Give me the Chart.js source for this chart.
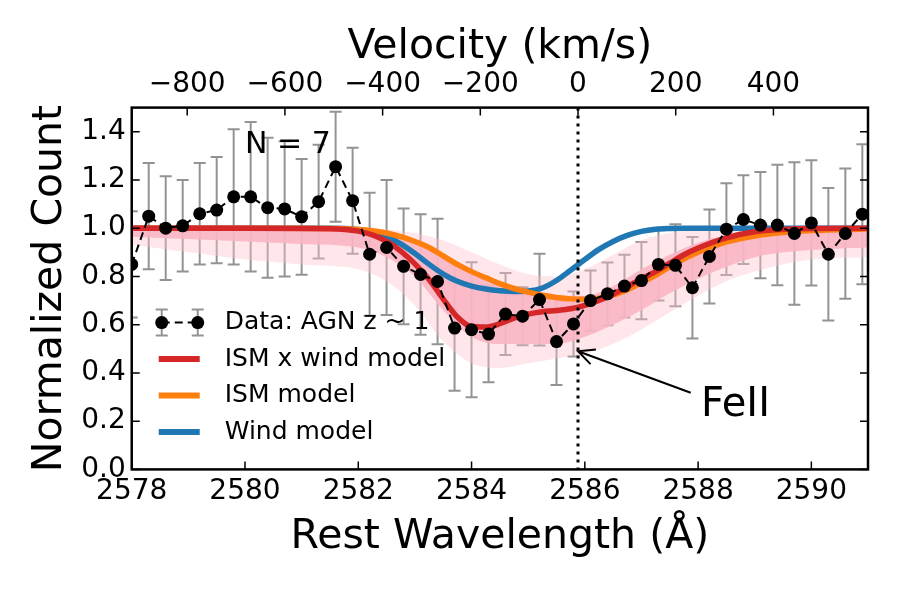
<!DOCTYPE html>
<html>
<head>
<meta charset="utf-8">
<script src="https://cdn.jsdelivr.net/npm/chart.js@4.4.1/dist/chart.umd.min.js"></script>
<style>
  html, body { margin: 0; padding: 0; background: #fff; }
</style>
</head>
<body>
<canvas id="lineChart" width="900" height="600"></canvas>
<script>
// stacked spectrum, binned points
const wavelength = [2578.0, 2578.3, 2578.6, 2578.9, 2579.2, 2579.5, 2579.8, 2580.1, 2580.4, 2580.7,
  2581.0, 2581.3, 2581.6, 2581.9, 2582.2, 2582.5, 2582.8, 2583.1, 2583.4, 2583.7,
  2584.0, 2584.3, 2584.6, 2584.9, 2585.2, 2585.5, 2585.8, 2586.1, 2586.4, 2586.7,
  2587.0, 2587.3, 2587.6, 2587.9, 2588.2, 2588.5, 2588.8, 2589.1, 2589.4, 2589.7,
  2590.0, 2590.3, 2590.6, 2590.9];
const counts = [0.85, 1.05, 1.0, 1.01, 1.06, 1.075, 1.13, 1.13, 1.085, 1.08,
  1.047, 1.11, 1.255, 1.114, 0.892, 0.92, 0.842, 0.808, 0.779, 0.586,
  0.579, 0.561, 0.644, 0.635, 0.704, 0.53, 0.603, 0.70, 0.728, 0.76,
  0.783, 0.85, 0.846, 0.753, 0.883, 0.996, 1.036, 1.013, 1.013, 0.978,
  1.022, 0.892, 0.978, 1.058];
const countErr = [0.22, 0.22, 0.215, 0.19, 0.21, 0.22, 0.28, 0.31, 0.29, 0.28,
  0.24, 0.236, 0.228, 0.22, 0.255, 0.28, 0.24, 0.25, 0.26, 0.26,
  0.28, 0.2, 0.17, 0.12, 0.19, 0.18, 0.135, 0.125, 0.13, 0.13,
  0.16, 0.15, 0.17, 0.21, 0.195, 0.19, 0.184, 0.22, 0.25, 0.295,
  0.26, 0.275, 0.27, 0.29];

// best-fit models
const modelWave = [2578, 2580, 2581.5, 2582, 2582.25, 2582.5, 2582.75, 2583, 2583.25, 2583.5,
  2583.75, 2584, 2584.25, 2584.5, 2584.75, 2585, 2585.25, 2585.5, 2585.75, 2586,
  2586.25, 2586.5, 2586.75, 2587, 2587.25, 2587.5, 2587.75, 2588, 2588.5, 2589,
  2589.5, 2590, 2591];
const ismWind = [1.0, 1.0, 0.998, 0.988, 0.972, 0.945, 0.905, 0.852, 0.787, 0.706,
  0.632, 0.592, 0.59, 0.604, 0.627, 0.644, 0.654, 0.659, 0.666, 0.68,
  0.70, 0.726, 0.758, 0.79, 0.82, 0.855, 0.89, 0.918, 0.96, 0.985,
  0.995, 0.999, 1.0];
const ism = [1.0, 1.0, 0.999, 0.995, 0.99, 0.98, 0.965, 0.945, 0.92, 0.885,
  0.85, 0.82, 0.795, 0.77, 0.75, 0.735, 0.722, 0.713, 0.707, 0.705,
  0.71, 0.723, 0.745, 0.775, 0.805, 0.84, 0.872, 0.9, 0.943, 0.968,
  0.982, 0.99, 0.997];
const wind = [1.0, 1.0, 1.0, 0.995, 0.985, 0.965, 0.935, 0.895, 0.85, 0.81,
  0.78, 0.76, 0.748, 0.741, 0.738, 0.74, 0.752, 0.783, 0.826, 0.87,
  0.912, 0.945, 0.97, 0.987, 0.996, 0.999, 1.0, 1.0, 1.0, 1.0,
  1.0, 1.0, 1.0];

// spread of the model samples
const bandWave = [2578, 2579, 2580, 2581, 2582, 2582.5, 2583, 2583.5, 2584, 2584.5,
  2585, 2585.5, 2586, 2586.5, 2587, 2587.5, 2588, 2588.5, 2589, 2589.5, 2590, 2591];
const innerTop = [0.995, 0.995, 0.995, 0.995, 0.99, 0.975, 0.94, 0.88, 0.82, 0.77,
  0.74, 0.72, 0.72, 0.76, 0.83, 0.89, 0.94, 0.97, 0.985, 0.99, 0.995, 0.995];
const innerBottom = [0.965, 0.955, 0.945, 0.935, 0.92, 0.88, 0.8, 0.66, 0.55, 0.52,
  0.52, 0.52, 0.55, 0.6, 0.66, 0.73, 0.79, 0.84, 0.88, 0.9, 0.91, 0.92];
const outerTop = [1.0, 1.0, 1.0, 1.0, 1.0, 0.995, 0.98, 0.95, 0.9, 0.85,
  0.81, 0.8, 0.83, 0.89, 0.95, 0.98, 0.995, 1.0, 1.0, 1.0, 1.0, 1.0];
const outerBottom = [0.93, 0.9, 0.87, 0.85, 0.83, 0.78, 0.68, 0.53, 0.44, 0.42,
  0.44, 0.46, 0.48, 0.52, 0.58, 0.65, 0.72, 0.78, 0.82, 0.85, 0.87, 0.88];

const waveTicks = [2578, 2580, 2582, 2584, 2586, 2588, 2590];
const countTicks = [0.0, 0.2, 0.4, 0.6, 0.8, 1.0, 1.2, 1.4];
const velTicks = [-800, -600, -400, -200, 0, 200, 400];

const lambda0 = 2585.88;
const cLight = 299792.458;
const toVel = w => (w - lambda0) / lambda0 * cLight;

const FONT = "'DejaVu Sans', sans-serif";
const RED = '#d62728', ORANGE = '#ff7f0e', BLUE = '#1f77b4';

const pts = (xs, ys) => xs.map((x, i) => ({ x: x, y: ys[i] }));

function legendRows() {
  return [
    { label: 'Data: AGN z ~ 1', type: 'data' },
    { label: 'ISM x wind model', color: RED },
    { label: 'ISM model', color: ORANGE },
    { label: 'Wind model', color: BLUE }
  ];
}

const extras = {
  id: 'extras',
  beforeDatasetsDraw(chart) {
    const { ctx, chartArea: a, scales: { x, y } } = chart;
    ctx.save();
    ctx.beginPath();
    ctx.rect(a.left, a.top, a.right - a.left, a.bottom - a.top);
    ctx.clip();
    ctx.strokeStyle = 'rgba(128,128,128,0.85)';
    ctx.lineWidth = 2;
    wavelength.forEach((w, i) => {
      const px = x.getPixelForValue(w);
      const top = y.getPixelForValue(counts[i] + countErr[i]);
      const bot = y.getPixelForValue(counts[i] - countErr[i]);
      ctx.beginPath();
      ctx.moveTo(px, top); ctx.lineTo(px, bot);
      ctx.moveTo(px - 6, top); ctx.lineTo(px + 6, top);
      ctx.moveTo(px - 6, bot); ctx.lineTo(px + 6, bot);
      ctx.stroke();
    });
    ctx.restore();
  },
  afterDatasetsDraw(chart) {
    const { ctx, chartArea: a, scales: { x, y, xv } } = chart;
    ctx.save();

    // dotted line at zero velocity
    const x0 = x.getPixelForValue(lambda0);
    ctx.strokeStyle = '#000';
    ctx.lineWidth = 3;
    ctx.setLineDash([3, 5]);
    ctx.beginPath();
    ctx.moveTo(x0, a.top); ctx.lineTo(x0, a.bottom);
    ctx.stroke();
    ctx.setLineDash([]);

    // frame + inward ticks
    ctx.lineWidth = 2.5;
    ctx.strokeRect(a.left, a.top, a.right - a.left, a.bottom - a.top);
    ctx.lineWidth = 1.5;
    ctx.beginPath();
    waveTicks.forEach(v => {
      const px = x.getPixelForValue(v);
      ctx.moveTo(px, a.bottom); ctx.lineTo(px, a.bottom - 8);
    });
    velTicks.forEach(v => {
      const px = xv.getPixelForValue(v);
      ctx.moveTo(px, a.top); ctx.lineTo(px, a.top + 8);
    });
    countTicks.forEach(v => {
      const py = y.getPixelForValue(v);
      ctx.moveTo(a.left, py); ctx.lineTo(a.left + 8, py);
      ctx.moveTo(a.right, py); ctx.lineTo(a.right - 8, py);
    });
    ctx.stroke();

    // annotation
    ctx.fillStyle = '#000';
    ctx.font = '30px ' + FONT;
    ctx.textBaseline = 'middle';
    ctx.textAlign = 'left';
    ctx.fillText('N = 7', x.getPixelForValue(2580.0), y.getPixelForValue(1.346));

    const tipX = x0, tipY = y.getPixelForValue(0.49);
    const tailX = x.getPixelForValue(2587.87), tailY = y.getPixelForValue(0.318);
    const ang = Math.atan2(tailY - tipY, tailX - tipX);
    ctx.lineWidth = 2;
    ctx.beginPath();
    ctx.moveTo(tailX, tailY); ctx.lineTo(tipX, tipY);
    ctx.moveTo(tipX + 18 * Math.cos(ang - 0.45), tipY + 18 * Math.sin(ang - 0.45));
    ctx.lineTo(tipX, tipY);
    ctx.lineTo(tipX + 18 * Math.cos(ang + 0.45), tipY + 18 * Math.sin(ang + 0.45));
    ctx.stroke();
    ctx.font = '40px ' + FONT;
    ctx.fillText('FeII', x.getPixelForValue(2588.05), y.getPixelForValue(0.2625));

    // legend
    const lx = a.left + 27, hx = a.left + 68, tx = a.left + 93;
    ctx.font = '25px ' + FONT;
    legendRows().forEach((row, i) => {
      const ry = a.top + 215 + 36.5 * i;
      if (row.type === 'data') {
        ctx.strokeStyle = 'rgba(128,128,128,0.85)';
        ctx.lineWidth = 2;
        [a.left + 30, a.left + 66].forEach(mx => {
          ctx.beginPath();
          ctx.moveTo(mx, ry - 13); ctx.lineTo(mx, ry + 13);
          ctx.moveTo(mx - 6, ry - 13); ctx.lineTo(mx + 6, ry - 13);
          ctx.moveTo(mx - 6, ry + 13); ctx.lineTo(mx + 6, ry + 13);
          ctx.stroke();
        });
        ctx.strokeStyle = '#000';
        ctx.setLineDash([8, 5]);
        ctx.beginPath();
        ctx.moveTo(a.left + 30, ry); ctx.lineTo(a.left + 66, ry);
        ctx.stroke();
        ctx.setLineDash([]);
        [a.left + 30, a.left + 66].forEach(mx => {
          ctx.beginPath();
          ctx.arc(mx, ry, 6.5, 0, Math.PI * 2);
          ctx.fill();
        });
      } else {
        ctx.strokeStyle = row.color;
        ctx.lineWidth = 6;
        ctx.beginPath();
        ctx.moveTo(lx, ry); ctx.lineTo(hx, ry);
        ctx.stroke();
      }
      ctx.fillStyle = '#000';
      ctx.fillText(row.label, tx, ry);
    });
    ctx.restore();
  }
};

const tickFont = { family: FONT, size: 28 };
const titleFont = { family: FONT, size: 41, lineHeight: 1.0 };

new Chart(document.getElementById('lineChart').getContext('2d'), {
  type: 'line',
  data: {
    datasets: [
      {
        label: 'Data: AGN z ~ 1',
        data: pts(wavelength, counts),
        borderColor: '#000',
        borderWidth: 2,
        borderDash: [8, 5],
        pointRadius: 6.5,
        pointBackgroundColor: '#000',
        pointBorderWidth: 0,
        fill: false,
        clip: 0
      },
      {
        label: 'ISM x wind model',
        data: pts(modelWave, ismWind),
        borderColor: RED, borderWidth: 5.5, pointRadius: 0,
        cubicInterpolationMode: 'monotone', fill: false, clip: 0
      },
      {
        label: 'ISM model',
        data: pts(modelWave, ism),
        borderColor: ORANGE, borderWidth: 5.5, pointRadius: 0,
        cubicInterpolationMode: 'monotone', fill: false, clip: 0
      },
      {
        label: 'Wind model',
        data: pts(modelWave, wind),
        borderColor: BLUE, borderWidth: 5.5, pointRadius: 0,
        cubicInterpolationMode: 'monotone', fill: false, clip: 0
      },
      {
        label: 'inner top',
        data: pts(bandWave, innerTop),
        borderWidth: 0, borderColor: 'rgba(0,0,0,0)', pointRadius: 0,
        cubicInterpolationMode: 'monotone',
        backgroundColor: 'rgba(250,182,196,0.9)', fill: '+1', clip: 0
      },
      {
        label: 'inner bottom',
        data: pts(bandWave, innerBottom),
        borderWidth: 0, borderColor: 'rgba(0,0,0,0)', pointRadius: 0,
        cubicInterpolationMode: 'monotone', fill: false, clip: 0
      },
      {
        label: 'outer top',
        data: pts(bandWave, outerTop),
        borderWidth: 0, borderColor: 'rgba(0,0,0,0)', pointRadius: 0,
        cubicInterpolationMode: 'monotone',
        backgroundColor: 'rgba(255,192,203,0.4)', fill: '+1', clip: 0
      },
      {
        label: 'outer bottom',
        data: pts(bandWave, outerBottom),
        borderWidth: 0, borderColor: 'rgba(0,0,0,0)', pointRadius: 0,
        cubicInterpolationMode: 'monotone', fill: false, clip: 0
      }
    ]
  },
  options: {
    responsive: false,
    animation: false,
    devicePixelRatio: 1,
    layout: { padding: { left: 26, right: 32, top: 27, bottom: 42 } },
    plugins: {
      legend: { display: false },
      tooltip: { enabled: false }
    },
    scales: {
      x: {
        type: 'linear',
        position: 'bottom',
        min: 2578,
        max: 2591,
        afterBuildTicks: s => { s.ticks = waveTicks.map(v => ({ value: v })); },
        ticks: { font: tickFont, color: '#000', padding: 6, autoSkip: false, maxRotation: 0,
          callback: v => String(v) },
        grid: { display: false, drawTicks: false },
        border: { display: false },
        title: { display: true, text: 'Rest Wavelength (Å)', font: titleFont, color: '#000',
          padding: { top: 2, bottom: 0 } }
      },
      xv: {
        type: 'linear',
        position: 'top',
        min: toVel(2578),
        max: toVel(2591),
        afterBuildTicks: s => { s.ticks = velTicks.map(v => ({ value: v })); },
        ticks: { font: tickFont, color: '#000', padding: 6, autoSkip: false, maxRotation: 0,
          callback: v => (v < 0 ? '\u2212' + Math.abs(v) : String(v)) },
        grid: { display: false, drawTicks: false },
        border: { display: false },
        title: { display: true, text: 'Velocity (km/s)', font: titleFont, color: '#000',
          padding: { top: 0, bottom: -6 } }
      },
      y: {
        type: 'linear',
        min: 0,
        max: 1.5,
        afterBuildTicks: s => { s.ticks = countTicks.map(v => ({ value: v })); },
        ticks: { font: tickFont, color: '#000', padding: 6, autoSkip: false,
          callback: v => v.toFixed(1) },
        grid: { display: false, drawTicks: false },
        border: { display: false },
        title: { display: true, text: 'Normalized Count', font: { family: FONT, size: 41 }, color: '#000',
          padding: { top: 0, bottom: 0 } }
      }
    }
  },
  plugins: [extras]
});
</script>
</body>
</html>
